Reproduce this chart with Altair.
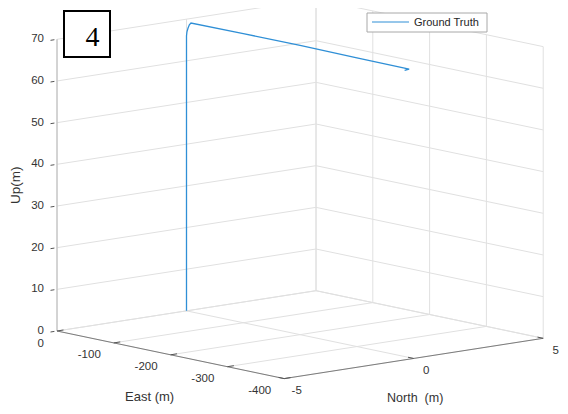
import altair as alt
import pandas as pd

# ---------------- data ----------------
SERIES = "Ground Truth"
PANEL_LABEL = "4"

# trajectory (East, North, Up) in metres
EAST = [0, 0, -0.8, -2.6, -5.0, -7.9, -100, -200, -300, -392, -384]
NORTH = [0, 0, 0, 0, 0, 0, 0, 0, 0, 0, 0]
UP = [0, 66.0, 67.0, 67.9, 68.8, 69.3, 69.4, 69.4, 69.3, 69.2, 68.7]

# axes
E_TICKS = [0, -100, -200, -300, -400]
N_TICKS = [-5, 0, 5]
U_TICKS = [0, 10, 20, 30, 40, 50, 60, 70]
E_LIM = (-400, 0)
N_LIM = (-5, 5)
U_LIM = (0, 70)
E_TITLE = "East (m)"
N_TITLE = "North\u00a0\u00a0(m)"
U_TITLE = "Up(m)"

# ---------------- view (orthographic projection, plot-space pixels) ----------------
W, H = 552, 398
OX, OY = 178.5, 302.85       # screen position of (0,0,0)
EX, EY = -0.568, -0.119      # per metre East
NX, NY = 25.9, -4.03         # per metre North
UY = -4.167                  # per metre Up


def proj(e, n, u, sx, sy):
    return {
        sx: f"{OX} + ({EX})*datum.{e} + ({NX})*datum.{n}",
        sy: f"{OY} + ({EY})*datum.{e} + ({NY})*datum.{n} + ({UY})*datum.{u}",
    }


xs = alt.Scale(domain=[0, W], nice=False, zero=False)
ys = alt.Scale(domain=[0, H], nice=False, zero=False, reverse=True)

e0, e1 = E_LIM
n0, n1 = N_LIM
u0, u1 = U_LIM

# grid segments
grid = []
for u in U_TICKS:
    grid.append((e1, n0, u, e1, n1, u))
    grid.append((e1, n1, u, e0, n1, u))
for n in N_TICKS:
    grid.append((e1, n, u0, e1, n, u1))
    grid.append((e1, n, u0, e0, n, u0))
for e in E_TICKS:
    grid.append((e, n1, u0, e, n1, u1))
    grid.append((e, n0, u0, e, n1, u0))
cols = ["E1", "N1", "U1", "E2", "N2", "U2"]
grid_df = pd.DataFrame(grid, columns=cols)

up_axis_df = pd.DataFrame([(e1, n0, u0, e1, n0, u1)], columns=cols)
hz_axis_df = pd.DataFrame([(e1, n0, u0, e0, n0, u0), (e0, n0, u0, e0, n1, u0)], columns=cols)

ticks = []
for u in U_TICKS:
    ticks.append((e1, n0 - 0.1, u, e1, n0 - 0.25, u))
for e in E_TICKS:
    ticks.append((e, n0, u0, e, n0 + 0.25, u0))
for n in N_TICKS:
    ticks.append((e0, n, u0, e0 + 10, n, u0))
ticks_df = pd.DataFrame(ticks, columns=cols)


def seg_layer(df, color, width):
    return (
        alt.Chart(df)
        .transform_calculate(**proj("E1", "N1", "U1", "sx1", "sy1"))
        .transform_calculate(**proj("E2", "N2", "U2", "sx2", "sy2"))
        .mark_rule(color=color, strokeWidth=width)
        .encode(
            x=alt.X("sx1:Q", scale=xs, axis=None),
            y=alt.Y("sy1:Q", scale=ys, axis=None),
            x2="sx2:Q",
            y2="sy2:Q",
        )
    )


def text_layer(df, **mark):
    return (
        alt.Chart(df)
        .transform_calculate(**proj("E", "N", "U", "sx", "sy"))
        .mark_text(font="Liberation Sans", color="#333333", baseline="middle", **mark)
        .encode(
            x=alt.X("sx:Q", scale=xs, axis=None),
            y=alt.Y("sy:Q", scale=ys, axis=None),
            text="label:N",
        )
    )


traj_df = pd.DataFrame({"i": range(len(EAST)), "E": EAST, "N": NORTH, "U": UP, "series": SERIES})
traj = (
    alt.Chart(traj_df)
    .transform_calculate(**proj("E", "N", "U", "sx", "sy"))
    .mark_line(color="#2f8fd6", strokeWidth=1.3)
    .encode(
        x=alt.X("sx:Q", scale=xs, axis=None),
        y=alt.Y("sy:Q", scale=ys, axis=None),
        order="i:Q",
    )
)

up_lab = pd.DataFrame({"E": e1, "N": n0, "U": U_TICKS, "label": [str(v) for v in U_TICKS]})
e_lab = pd.DataFrame({"E": E_TICKS, "N": n0, "U": u0, "label": [str(v) for v in E_TICKS]})
n_lab = pd.DataFrame({"E": e0, "N": N_TICKS, "U": u0, "label": [str(v) for v in N_TICKS]})
e_tit = pd.DataFrame({"E": [(e0 + e1) / 2], "N": [n0], "U": [u0], "label": [E_TITLE]})
n_tit = pd.DataFrame({"E": [e0], "N": [(n0 + n1) / 2], "U": [u0], "label": [N_TITLE]})
u_tit = pd.DataFrame({"E": [e1], "N": [n0], "U": [(u0 + u1) / 2], "label": [U_TITLE]})

one = pd.DataFrame({"a": [0]})
legend_box = alt.Chart(one).mark_rect(fill="white", stroke="#a8a8a8", strokeWidth=1).encode(
    x=alt.value(359), x2=alt.value(479), y=alt.value(5), y2=alt.value(24)
)
legend_line = alt.Chart(one).mark_rule(color="#2f8fd6", strokeWidth=1).encode(
    x=alt.value(364), x2=alt.value(401), y=alt.value(14)
)
legend_text = alt.Chart(one).mark_text(
    font="Liberation Sans", fontSize=11, color="#262626", align="left", baseline="middle"
).encode(x=alt.value(406), y=alt.value(14.5), text=alt.value(SERIES))

panel_box = alt.Chart(one).mark_rect(fill="white", stroke="black", strokeWidth=2).encode(
    x=alt.value(56), x2=alt.value(102), y=alt.value(3), y2=alt.value(49)
)
panel_text = alt.Chart(one).mark_text(
    font="Liberation Serif", fontSize=28, color="black", align="center", baseline="middle"
).encode(x=alt.value(84.5), y=alt.value(30), text=alt.value(PANEL_LABEL))

chart = alt.layer(
    seg_layer(grid_df, "#e0e0e0", 1),
    seg_layer(up_axis_df, "#b8b8b8", 1),
    seg_layer(hz_axis_df, "#707070", 0.9),
    seg_layer(ticks_df, "#555555", 1),
    traj,
    text_layer(up_lab, fontSize=11.5, align="right", dx=-13),
    text_layer(e_lab, fontSize=11.5, align="right", dx=-13, dy=12.5),
    text_layer(n_lab, fontSize=11.5, align="center", dx=12.5, dy=12.5),
    text_layer(e_tit, fontSize=13, align="center", dx=-21, dy=42.5),
    text_layer(n_tit, fontSize=12.5, align="center", dx=1.5, dy=40),
    text_layer(u_tit, fontSize=13.5, align="center", angle=270, dy=-41),
    legend_box,
    legend_line,
    legend_text,
    panel_box,
    panel_text,
).properties(
    width=W, height=H,
    padding=0,
    autosize=alt.AutoSizeParams(type="none"),
).configure_view(stroke=None)

chart.save("out.html", embed_options={"renderer": "svg", "actions": False})
